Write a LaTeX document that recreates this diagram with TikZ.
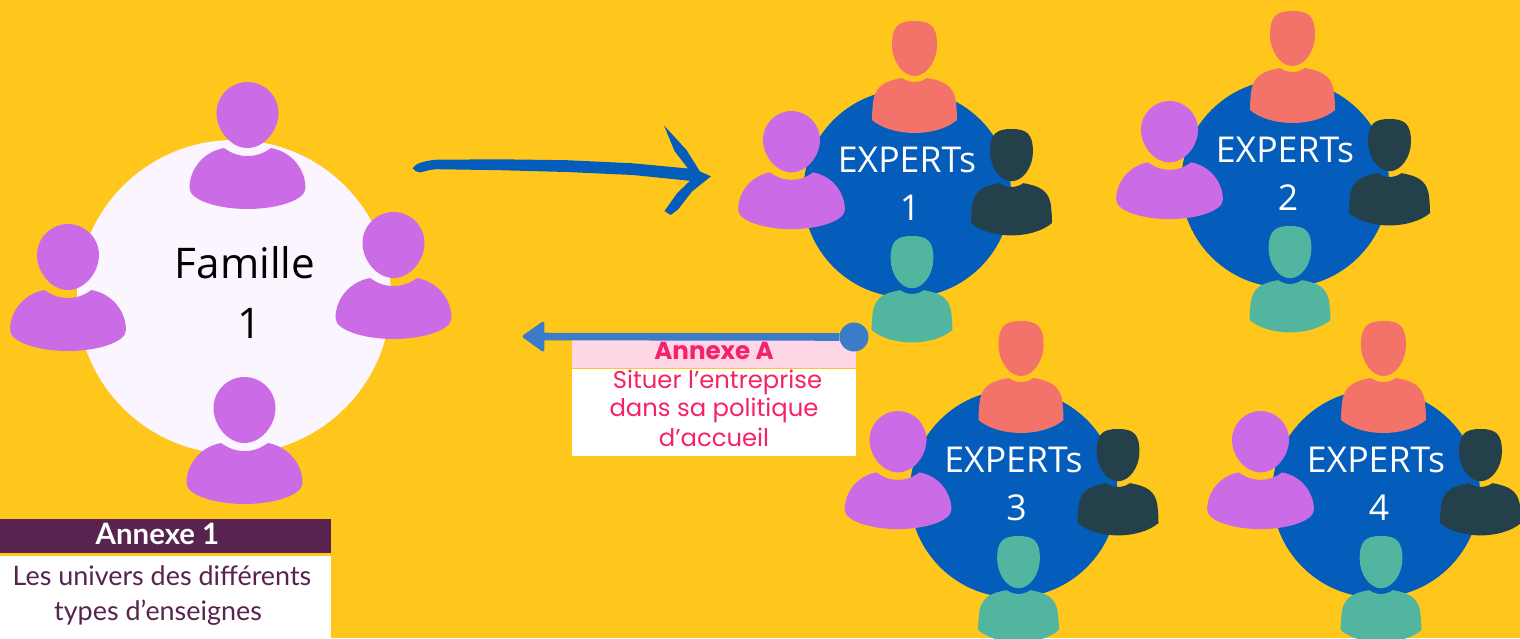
\documentclass[tikz,border=0pt]{standalone}
\usepackage{fontspec}
\usetikzlibrary{arrows.meta}
\setmainfont{Open Sans}
\newfontfamily\popfont{Poppins}
\newfontfamily\latofont{Lato}
\definecolor{bgyellow}{HTML}{FFC71B}
\definecolor{ppurple}{HTML}{CB6CE6}
\definecolor{psalmon}{HTML}{F3736B}
\definecolor{pdark}{HTML}{24414B}
\definecolor{pteal}{HTML}{52B5A0}
\definecolor{cblue}{HTML}{045CBB}
\definecolor{famwhite}{HTML}{FAF5FE}
\definecolor{linkblue}{HTML}{3B7CC8}
\definecolor{annpink}{HTML}{FFD6E5}
\definecolor{annred}{HTML}{F5226A}
\definecolor{annplum}{HTML}{58244F}
\tikzset{
  roundcircle/.style={circle,inner sep=0pt,draw=none},
  famtext/.style={anchor=base,inner sep=0pt,font=\fontsize{42.2}{42.2}\selectfont,text=black},
  exptext/.style={anchor=base,inner sep=0pt,font=\fontsize{35.6}{35.6}\selectfont,text=white},
  popb/.style={anchor=base,inner sep=0pt,font=\popfont\bfseries\fontsize{24.6}{24.6}\selectfont,text=annred},
  popr/.style={anchor=base,inner sep=0pt,font=\popfont\fontsize{24.3}{24.3}\selectfont,text=annred},
  latb/.style={anchor=base,inner sep=0pt,font=\latofont\bfseries\fontsize{29.4}{29.4}\selectfont,text=white},
  latr/.style={anchor=base,inner sep=0pt,font=\latofont\fontsize{26.9}{26.9}\selectfont,text=annplum}
}
% round-headed person: centre x, top y, x scale, y scale, colour
\newcommand\personround[5]{%
  \begin{scope}[shift={(#1,#2)},xscale=#3,yscale=#4]
    \fill[#5] (0,0) .. controls (17,0) and (31,14) .. (31,31)
      .. controls (31,48) and (17,66) .. (0,66)
      .. controls (-17,66) and (-31,48) .. (-31,31)
      .. controls (-31,14) and (-17,0) .. (0,0) -- cycle;
    \fill[#5] (-23.5,66) .. controls (-15,72) and (-8,74) .. (0,74)
      .. controls (8,74) and (15,72) .. (23.5,66)
      .. controls (45,70) and (58,88) .. (58,106)
      .. controls (58,118) and (30,127) .. (0,127)
      .. controls (-30,127) and (-58,118) .. (-58,106)
      .. controls (-58,88) and (-45,70) .. (-23.5,66) -- cycle;
  \end{scope}}
% square-headed person
\newcommand\personsquare[5]{%
  \begin{scope}[shift={(#1,#2)},xscale=#3,yscale=#4]
    \fill[#5] (0,0) .. controls (16,0) and (22.5,5) .. (22.5,24)
      .. controls (22.5,40) and (12,55) .. (0,55)
      .. controls (-12,55) and (-22.5,40) .. (-22.5,24)
      .. controls (-22.5,5) and (-16,0) .. (0,0) -- cycle;
    \fill[#5] (-12.5,57) .. controls (-8,60) and (-4,61) .. (0,61)
      .. controls (4,61) and (8,60) .. (12.5,57)
      .. controls (30,60) and (38,65) .. (41,78)
      .. controls (42,85) and (42.5,92) .. (42.5,99)
      .. controls (32,108) and (15,112) .. (0,112)
      .. controls (-15,112) and (-32,108) .. (-42.5,99)
      .. controls (-42.5,92) and (-42,85) .. (-41,78)
      .. controls (-38,65) and (-30,60) .. (-12.5,57) -- cycle;
  \end{scope}}
% expert table: dx, dy, number
\newcommand\expertgroup[3]{%
  \begin{scope}[shift={(#1,#2)}]
    \node[roundcircle,fill=cblue,minimum size=208pt] (table#3) at (907,193.5) {};
    \personsquare{914.5}{21}{1}{1}{psalmon}
    \personround{791.5}{111}{0.92}{0.93}{ppurple}
    \personsquare{1011.5}{129}{0.953}{0.95}{pdark}
    \personsquare{912}{236}{0.95}{0.95}{pteal}
    \node[exptext] (exp#3) at (907,172.7) {EXPERTs};
    \node[exptext] (num#3) at (910,220.7) {#3};
  \end{scope}}
\begin{document}
\begin{tikzpicture}[x=1pt,y=-1pt]
\useasboundingbox (0,0) rectangle (1520,638);
\clip (0,0) rectangle (1520,638);
\fill[bgyellow] (0,0) rectangle (1520,638);
% family table
\node[roundcircle,fill=famwhite,minimum size=314pt] (fam) at (234,297) {};
\personround{247.5}{82}{1}{1}{ppurple}
\personround{68}{224}{1}{1}{ppurple}
\personround{393.5}{212}{1}{1}{ppurple}
\personround{244.5}{377}{1}{1}{ppurple}
\node[famtext] (famname) at (245,278) {Famille};
\node[famtext] (famnum) at (250,338) {1};
% hand-drawn arrow
\fill[cblue] (412.7,168.3) .. controls (415,165) and (418,163.3) .. (420,162.8)
  .. controls (427,160.8) and (432,160) .. (436.7,159.7)
  -- (500,159.3) -- (566.7,160.2) -- (633,163.3) -- (688,168.5)
  -- (674.5,151) -- (664,125.5) -- (686.5,150) -- (700,171.5) -- (711,176.3)
  -- (692,191.5) -- (678,209.5) -- (670.7,215) -- (664.5,211) -- (677,193.3) -- (690,180.8)
  -- (633,175) -- (566.7,172) -- (500,170.2) -- (436.7,169.2)
  .. controls (430,169.4) and (425,171.4) .. (420,172.4)
  .. controls (417,172.2) and (414,170.5) .. (412.7,168.3) -- cycle;
% Annexe A box
\fill[annpink] (572,336) rectangle (856,367.7);
\fill[white] (572,369) rectangle (856,455.7);
\node[popb] (annA) at (714,359) {Annexe A};
\node[popr] (annA1) at (717.5,388) {Situer l’entreprise};
\node[popr] (annA2) at (714,416.7) {dans sa politique};
\node[popr] (annA3) at (714,446.7) {d’accueil};
% link
\node[roundcircle,fill=linkblue,minimum size=29pt] (dot) at (854,337) {};
\coordinate (linktip) at (522.5,336.5);
\draw[linkblue,line width=7.6pt,-{Triangle[length=23pt,width=32pt,line width=3pt,round]}] (dot) -- (linktip);
% Annexe 1 box
\fill[annplum] (0,519) rectangle (331,552.7);
\fill[white] (0,556) rectangle (331,638);
\node[latb] (ann1) at (157.5,544) {Annexe 1};
\node[latr] (ann11) at (162,585) {Les univers des différents};
\node[latr] (ann12) at (158,620) {types d’enseignes};
% expert tables
\expertgroup{0}{0}{1}
\expertgroup{378}{-10}{2}
\expertgroup{106.5}{300}{3}
\expertgroup{469}{300}{4}
\end{tikzpicture}
\end{document}
